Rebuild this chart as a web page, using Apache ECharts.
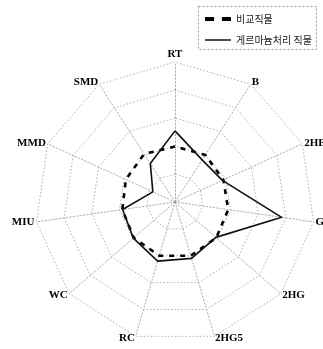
<!DOCTYPE html>
<html>
<head>
<meta charset="utf-8">
<script src="https://cdn.jsdelivr.net/npm/echarts@6/dist/echarts.min.js"></script>
<style>
  html, body { margin: 0; padding: 0; background: #fff; }
  #chart { width: 323px; height: 349px; }
</style>
</head>
<body>
<div id="chart"></div>
<script>
// Radar axes, listed in the order ECharts lays them out (counter-clockwise from the top)
const axisNames = ['RT', 'SMD', 'MMD', 'MIU', 'WC', 'RC', '2HG5', '2HG', 'G', '2HB', 'B'];
const axisMax = 5;

// Series names (legend)
const seriesNames = ['비교직물', '게르마늄처리 직물'];

// Values per axis, same order as axisNames
const controlValues = [1.98, 2.04, 1.93, 1.90, 1.95, 2.00, 2.00, 1.95, 1.92, 1.90, 2.00];
const treatedValues = [2.54, 1.63, 0.87, 1.89, 1.97, 2.20, 2.10, 1.93, 3.85, 1.86, 1.79];

const chart = echarts.init(document.getElementById('chart'), null, { renderer: 'canvas' });

const gridLine = { color: '#999', width: 0.8, type: [1.5, 2] };

chart.setOption({
  backgroundColor: '#ffffff',
  animation: false,
  legend: {
    orient: 'vertical',
    left: 200,
    top: 9,
    itemGap: 11,
    itemWidth: 26,
    itemHeight: 4,
    textStyle: { fontFamily: 'Noto Sans CJK KR', fontSize: 10, color: '#222' },
    data: [
      { name: seriesNames[0], icon: 'path://M0 0h7v3H0z M13 0h7v3H13z', itemStyle: { color: '#000' } },
      { name: seriesNames[1], icon: 'path://M0 1h26v1.4H0z', itemStyle: { color: '#000' } }
    ]
  },
  graphic: [{
    type: 'rect',
    left: 196,
    top: 4,
    shape: { width: 118, height: 43 },
    style: { fill: 'none', stroke: '#999', lineWidth: 1, lineDash: [2, 2] },
    silent: true
  }],
  radar: {
    center: [175, 202],
    radius: 140,
    startAngle: 90,
    splitNumber: 5,
    shape: 'polygon',
    nameGap: 2,
    axisName: {
      color: '#000',
      fontFamily: 'Liberation Serif',
      fontWeight: 'bold',
      fontSize: 11
    },
    indicator: axisNames.map(n => ({ name: n, min: 0, max: axisMax })),
    splitLine: { lineStyle: gridLine },
    splitArea: { show: false },
    axisLine: { lineStyle: gridLine },
    axisTick: { show: false },
    axisLabel: { show: false }
  },
  series: [{
    type: 'radar',
    symbol: 'none',
    data: [
      {
        name: seriesNames[0],
        value: controlValues,
        lineStyle: { color: '#000', width: 2.6, type: [5, 6] },
        itemStyle: { color: '#000' }
      },
      {
        name: seriesNames[1],
        value: treatedValues,
        lineStyle: { color: '#111', width: 1.6, type: 'solid' },
        itemStyle: { color: '#000' }
      }
    ]
  }]
});
</script>
</body>
</html>
